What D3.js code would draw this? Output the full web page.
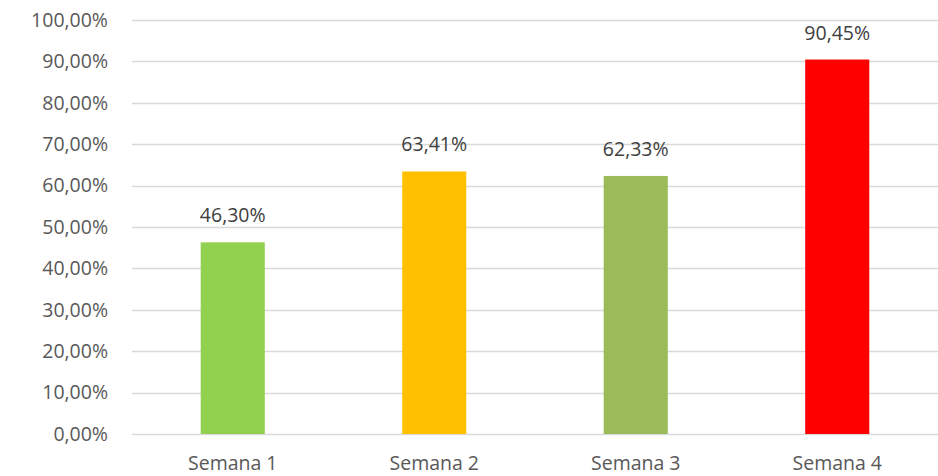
<!DOCTYPE html>
<html>
<head>
<meta charset="utf-8">
<script src="https://cdn.jsdelivr.net/npm/d3@7"></script>
<style>
  body { margin: 0; background: #fff; }
  svg text { font-family: "Open Sans", sans-serif; }
</style>
</head>
<body>
<svg id="chart"></svg>
<script>
const weeks = ["Semana 1", "Semana 2", "Semana 3", "Semana 4"];
const values = [46.30, 63.41, 62.33, 90.45];
const barColors = ["#92D050", "#FFC000", "#9BBB59", "#FF0000"];
const yTicks = [0, 10, 20, 30, 40, 50, 60, 70, 80, 90, 100];

const width = 938, height = 476;
const margin = {top: 20, right: 0, bottom: 42, left: 132};
const fontSize = "19.5px";

const svg = d3.select("#chart")
    .attr("width", width)
    .attr("height", height);

const fmt = v => d3.format(".2f")(v).replace(".", ",") + "%";

const x = d3.scaleBand()
    .domain(weeks)
    .range([margin.left, width - margin.right])
    .padding(0);

const y = d3.scaleLinear()
    .domain([0, 100])
    .range([height - margin.bottom, margin.top]);

// gridlines
svg.append("g")
    .selectAll("line")
    .data(yTicks)
    .enter().append("line")
    .attr("x1", margin.left)
    .attr("x2", width - margin.right)
    .attr("y1", d => Math.round(y(d)) + 0.5)
    .attr("y2", d => Math.round(y(d)) + 0.5)
    .attr("stroke", "#d9d9d9")
    .attr("stroke-width", 1.3);

// y axis labels
const yAxis = d3.axisLeft(y).tickValues(yTicks).tickFormat(fmt).tickSize(0).tickPadding(24);
const yG = svg.append("g")
    .attr("transform", `translate(${margin.left},0)`)
    .call(yAxis);
yG.select(".domain").remove();
yG.selectAll("text")
    .attr("fill", "#595959")
    .style("font-size", fontSize);

// bars
const barW = x.bandwidth() * 0.318;
svg.append("g")
    .selectAll("rect")
    .data(values)
    .enter().append("rect")
    .attr("x", (d, i) => x(weeks[i]) + (x.bandwidth() - barW) / 2)
    .attr("y", d => y(d))
    .attr("width", barW)
    .attr("height", d => y(0) - y(d))
    .attr("fill", (d, i) => barColors[i]);

// data labels
svg.append("g")
    .selectAll("text")
    .data(values)
    .enter().append("text")
    .attr("x", (d, i) => x(weeks[i]) + x.bandwidth() / 2)
    .attr("y", d => y(d) - 20)
    .attr("text-anchor", "middle")
    .attr("fill", "#404040")
    .style("font-size", fontSize)
    .text(fmt);

// x axis labels
const xAxis = d3.axisBottom(x).tickSize(0).tickPadding(22);
const xG = svg.append("g")
    .attr("transform", `translate(0,${y(0)})`)
    .call(xAxis);
xG.select(".domain").remove();
xG.selectAll("text")
    .attr("fill", "#595959")
    .style("font-size", fontSize);
</script>
</body>
</html>
